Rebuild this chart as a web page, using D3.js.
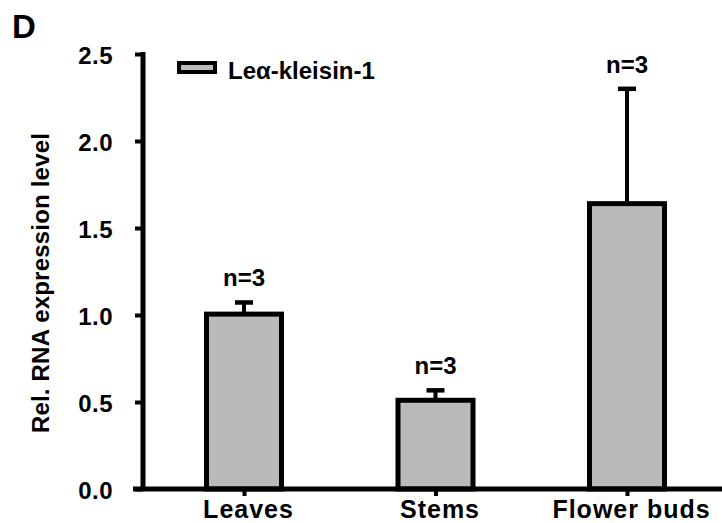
<!DOCTYPE html>
<html>
<head>
<meta charset="utf-8">
<script src="https://cdn.jsdelivr.net/npm/d3@7"></script>
<style>
  body { margin: 0; background: #fff; }
  text { font-family: "Liberation Sans", Arial, sans-serif; font-weight: bold; fill: #000; }
</style>
</head>
<body>
<svg id="chart" width="722" height="523"></svg>
<script>
const categories = ["Leaves", "Stems", "Flower buds"];
const means = [1.005, 0.51, 1.64];
const errors = [0.067, 0.057, 0.66];
const nLabels = ["n=3", "n=3", "n=3"];
const yTicks = [0, 0.5, 1.0, 1.5, 2.0, 2.5];
const seriesName = "Le\u03b1-kleisin-1";

const svg = d3.select("#chart");
const fill = "#b9babc";

const x = d3.scalePoint().domain(categories).range([244, 627]);
const y = d3.scaleLinear().domain([0, 2.5]).range([489, 54]);
const barW = 75;

// Panel letter
svg.append("text").attr("x", 12).attr("y", 38).style("font-size", "33px").text("D");

// Bars
svg.selectAll("rect.bar").data(categories).enter().append("rect")
  .attr("class", "bar")
  .attr("x", d => x(d) - barW / 2)
  .attr("width", barW)
  .attr("y", (d, i) => y(means[i]))
  .attr("height", (d, i) => y(0) - y(means[i]))
  .attr("fill", fill).attr("stroke", "#000").attr("stroke-width", 5);

// Error bars
categories.forEach((c, i) => {
  const top = y(means[i] + errors[i]);
  svg.append("line").attr("x1", x(c)).attr("x2", x(c))
    .attr("y1", y(means[i])).attr("y2", top)
    .attr("stroke", "#000").attr("stroke-width", 4);
  svg.append("line").attr("x1", x(c) - 9).attr("x2", x(c) + 9)
    .attr("y1", top).attr("y2", top)
    .attr("stroke", "#000").attr("stroke-width", 4.5);
  svg.append("text").attr("x", x(c)).attr("y", top - 16)
    .attr("text-anchor", "middle").style("font-size", "24px").text(nLabels[i]);
});

// Y axis
const yAxis = d3.axisLeft(y).tickValues(yTicks).tickFormat(d3.format(".1f")).tickSize(8).tickPadding(22);
const gy = svg.append("g").attr("transform", "translate(143,0)").call(yAxis);
gy.select(".domain").remove();
gy.append("line").attr("x1", 0).attr("x2", 0).attr("y1", y(2.5) - 2).attr("y2", y(0))
  .attr("stroke", "#000").attr("stroke-width", 5);
gy.selectAll(".tick line").attr("stroke", "#000").attr("stroke-width", 4);
gy.selectAll(".tick text").style("font-size", "24px").style("font-family", "Liberation Sans, Arial, sans-serif")
  .style("font-weight", "bold").style("letter-spacing", "0.5px").attr("fill", "#000").attr("dy", "0.4em");

// X axis
const xAxis = d3.axisBottom(x).tickSize(7).tickPadding(4);
const gx = svg.append("g").attr("transform", `translate(0,${y(0)})`).call(xAxis);
gx.select(".domain").remove();
gx.append("line").attr("x1", 133).attr("x2", 722).attr("y1", 0).attr("y2", 0)
  .attr("stroke", "#000").attr("stroke-width", 5);
gx.selectAll(".tick line").attr("stroke", "#000").attr("stroke-width", 4);
gx.selectAll(".tick text").style("font-size", "25px").style("font-family", "Liberation Sans, Arial, sans-serif")
  .style("font-weight", "bold").style("letter-spacing", "1px").attr("fill", "#000").attr("dy", "0.7em")
  .attr("dx", "4px");

// Y title
svg.append("text").attr("transform", "translate(49,283) rotate(-90)")
  .attr("text-anchor", "middle").style("font-size", "24px").style("letter-spacing", "0.2px")
  .text("Rel. RNA expression level");

// Legend
svg.append("rect").attr("x", 179).attr("y", 63).attr("width", 36).attr("height", 9)
  .attr("fill", fill).attr("stroke", "#000").attr("stroke-width", 4);
svg.append("text").attr("x", 228).attr("y", 79).style("font-size", "24px").text(seriesName);
</script>
</body>
</html>
